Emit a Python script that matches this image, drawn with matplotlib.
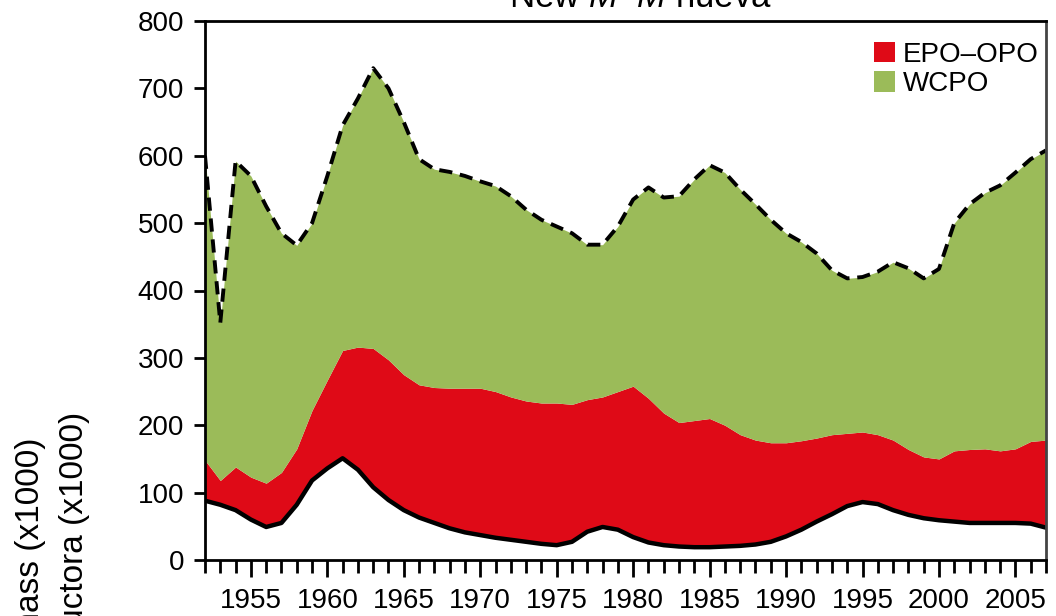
import matplotlib
matplotlib.use("Agg")
import matplotlib.pyplot as plt
from matplotlib.patches import Patch
from matplotlib.ticker import MultipleLocator

plt.rcParams['font.family'] = ['Liberation Sans', 'DejaVu Sans']
plt.rcParams['mathtext.fontset'] = 'custom'
plt.rcParams['mathtext.rm'] = 'Liberation Sans'
plt.rcParams['mathtext.it'] = 'Liberation Sans:italic'

years = list(range(1952, 2008))

# lower curve (black line)
lower = [88, 82, 74, 60, 49, 55, 82, 118, 136, 151,
         134, 108, 89, 74, 63, 55, 47, 41, 37, 33,
         30, 27, 24, 22, 27, 42, 49, 45, 34, 26,
         22, 20, 19, 19, 20, 21, 23, 27, 35, 45,
         57, 68, 80, 86, 83, 74, 67, 62, 59, 57,
         55, 55, 55, 55, 54, 48]

# top of the EPO-OPO band
epo_top = [148, 118, 138, 123, 114, 130, 165, 222, 267, 311,
           316, 314, 297, 275, 260, 256, 255, 255, 255, 250,
           242, 236, 233, 233, 231, 238, 242, 250, 258, 240,
           218, 204, 207, 210, 200, 186, 178, 174, 174, 177,
           181, 186, 188, 190, 186, 178, 164, 153, 150, 162,
           164, 165, 162, 165, 176, 178]

# total (dashed line)
total = [600, 352, 592, 570, 525, 485, 467, 500, 570, 645,
         685, 730, 700, 650, 595, 580, 576, 570, 562, 555,
         540, 520, 505, 495, 485, 468, 468, 495, 535, 553,
         538, 540, 565, 586, 575, 550, 528, 505, 485, 472,
         455, 430, 418, 420, 428, 442, 433, 418, 432, 500,
         528, 545, 556, 575, 595, 608]

red = '#DF0A17'
green = '#9BBB59'

fig = plt.figure(figsize=(10.56, 6.16), dpi=100)
ax = fig.add_axes([205/1056, 1 - 560/616, (1046 - 205)/1056, (560 - 21)/616])

ax.fill_between(years, lower, epo_top, color=red, linewidth=0)
ax.fill_between(years, epo_top, total, color=green, linewidth=0)
ax.plot(years, total, color='black', linestyle=(0, (3.4, 2.0)), linewidth=2.8)
ax.plot(years, lower, color='black', linewidth=3.2)

ax.set_xlim(1952, 2007)
ax.set_ylim(0, 800)
ax.xaxis.set_minor_locator(MultipleLocator(1))
ax.set_xticks(range(1955, 2006, 5))
ax.yaxis.set_major_locator(MultipleLocator(100))

ax.tick_params(axis='x', which='major', length=12, width=2, pad=8, labelsize=20)
ax.tick_params(axis='x', which='minor', length=9, width=2)
ax.tick_params(axis='y', which='major', length=8, width=2, pad=7, labelsize=20)
for s in ax.spines.values():
    s.set_linewidth(2)
ax.spines['right'].set_color('#444444')

legend_items = [Patch(facecolor=red, edgecolor='none', label='EPO\u2013OPO'),
                Patch(facecolor=green, edgecolor='none', label='WCPO')]
fig.legend(handles=legend_items, loc='upper left', bbox_to_anchor=(860/1056, 1 - 28/616),
           frameon=False, fontsize=20, borderpad=0, handlelength=0.75, handleheight=0.75,
           handletextpad=0.3, labelspacing=0.12)

fig.text(0.606, 1 - 7/616, 'New $\\it{M}$\u2013$\\it{M}$ nueva',
         ha='center', va='baseline', fontsize=25)

fig.text(31/1056, 1 - 437/616, 'Spawning biomass (x1000)', rotation=90,
         ha='center', va='top', fontsize=24)
fig.text(75/1056, 1 - 412/616, 'Biomasa reproductora (x1000)', rotation=90,
         ha='center', va='top', fontsize=24)

fig.savefig('out.png', dpi=100)
